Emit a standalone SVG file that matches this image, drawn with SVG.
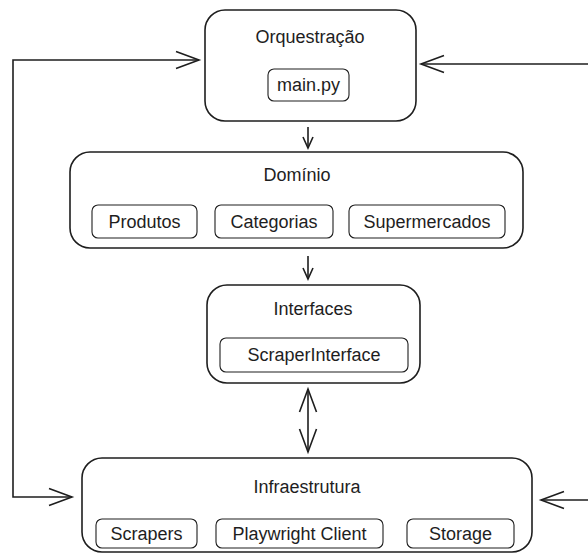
<svg xmlns="http://www.w3.org/2000/svg" width="588" height="554" viewBox="0 0 588 554">
<style>
.box{fill:#fff;stroke:#1e1e1e;stroke-width:1.6}
.sub{fill:#fff;stroke:#1e1e1e;stroke-width:1.1}
.t{font-family:"Liberation Sans","DejaVu Sans",sans-serif;font-size:18px;fill:#1e1e1e;text-anchor:middle;dominant-baseline:central}
.c{fill:none;stroke:#1e1e1e;stroke-width:1.6}
</style>
<defs>
<marker id="big" markerUnits="userSpaceOnUse" markerWidth="30" markerHeight="24" viewBox="-26 -12 30 24" refX="0" refY="0" orient="auto-start-reverse">
<path d="M-23,-8.5 L0,0 L-23,8.5" fill="none" stroke="#1e1e1e" stroke-width="1.6"/>
</marker>
<marker id="small" markerUnits="userSpaceOnUse" markerWidth="16" markerHeight="16" viewBox="-14 -8 16 16" refX="0" refY="0" orient="auto-start-reverse">
<path d="M-11,-5 L0,0 L-11,5" fill="none" stroke="#1e1e1e" stroke-width="1.6"/>
</marker>
</defs>
<rect width="588" height="554" fill="#fff"/>
<g id="connectors">
<path class="c" d="M308,127 L308,148" marker-end="url(#small)"/>
<path class="c" d="M308,256 L308,279" marker-end="url(#small)"/>
<path class="c" d="M308,389 L308,452" marker-start="url(#big)" marker-end="url(#big)"/>
<path class="c" d="M72,497 L13,497 L13,60 L199,60" marker-start="url(#big)" marker-end="url(#big)"/>
<path class="c" d="M590,64 L421,64" marker-end="url(#big)"/>
<path class="c" d="M590,500 L541,500" marker-end="url(#big)"/>
</g>
<g id="orquestracao">
<rect class="box" x="205" y="10" width="211" height="111" rx="20"/>
<text class="t" x="310" y="37">Orquestração</text>
<rect class="sub" x="268" y="69" width="81" height="32" rx="6"/>
<text class="t" x="308.5" y="85">main.py</text>
</g>
<g id="dominio">
<rect class="box" x="70" y="152" width="453" height="96" rx="20"/>
<text class="t" x="297" y="175">Domínio</text>
<rect class="sub" x="92" y="205" width="105" height="33" rx="6"/>
<text class="t" x="144.5" y="221.5">Produtos</text>
<rect class="sub" x="215" y="205" width="118" height="33" rx="6"/>
<text class="t" x="274" y="221.5">Categorias</text>
<rect class="sub" x="349" y="205" width="156" height="33" rx="6"/>
<text class="t" x="427" y="221.5">Supermercados</text>
</g>
<g id="interfaces">
<rect class="box" x="207" y="285" width="213" height="98" rx="20"/>
<text class="t" x="313" y="309">Interfaces</text>
<rect class="sub" x="220" y="338" width="188" height="34" rx="6"/>
<text class="t" x="314" y="355">ScraperInterface</text>
</g>
<g id="infraestrutura">
<rect class="box" x="82" y="458" width="450" height="94" rx="20"/>
<text class="t" x="307" y="487">Infraestrutura</text>
<rect class="sub" x="96" y="519" width="101" height="29" rx="6"/>
<text class="t" x="146.5" y="533.5">Scrapers</text>
<rect class="sub" x="216" y="519" width="167" height="29" rx="6"/>
<text class="t" x="299.5" y="533.5">Playwright Client</text>
<rect class="sub" x="407" y="519" width="107" height="29" rx="6"/>
<text class="t" x="460.5" y="533.5">Storage</text>
</g>
</svg>
